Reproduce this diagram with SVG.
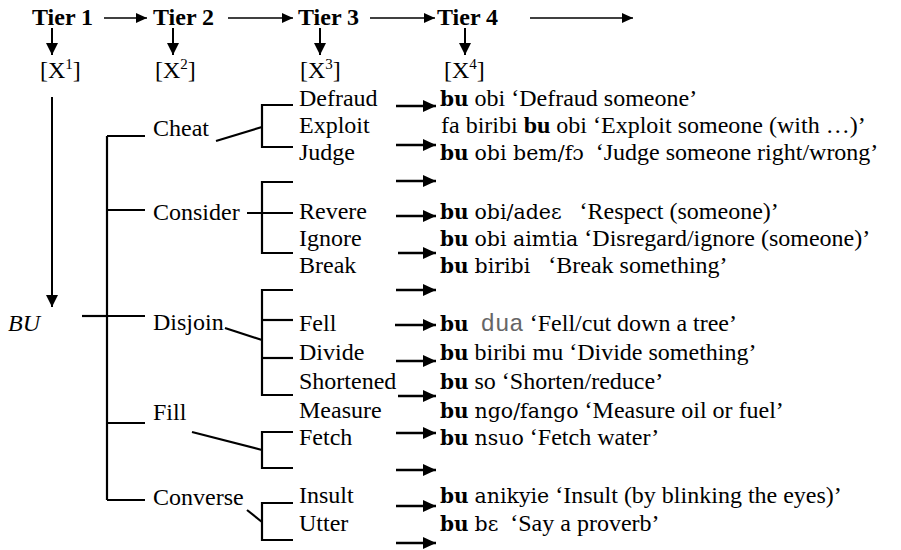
<svg xmlns="http://www.w3.org/2000/svg" width="901" height="550" viewBox="0 0 901 550">
<style>
text{font-family:"Liberation Serif","Times New Roman",serif;font-size:24px;fill:#000;white-space:pre}
.h{font-weight:bold}
.it{font-style:italic}
.sup{font-size:15px}
.b{font-weight:bold;font-family:"DejaVu Serif",serif;font-size:20px}
.bt{font-weight:bold}
.ak{font-family:"DejaVu Serif",serif;font-size:20.5px}
.mono{font-family:"Liberation Mono",monospace;font-size:24px;fill:#666}
.ln{stroke:#000;stroke-width:2.2;fill:none}
.ar{stroke:#000;stroke-width:2.6;fill:none;marker-end:url(#ah)}
.ha{stroke:#000;stroke-width:1.7;fill:none;marker-end:url(#hh)}
.da{stroke:#000;stroke-width:2;fill:none;marker-end:url(#dh)}
</style>
<defs>
<marker id="ah" markerUnits="userSpaceOnUse" markerWidth="14" markerHeight="12" refX="13" refY="6" orient="auto"><path d="M0,0 L13,6 L0,12 Z" fill="#000"/></marker>
<marker id="hh" markerUnits="userSpaceOnUse" markerWidth="12" markerHeight="10" refX="11" refY="5" orient="auto"><path d="M0,0 L11,5 L0,10 Z" fill="#000"/></marker>
<marker id="dh" markerUnits="userSpaceOnUse" markerWidth="13" markerHeight="12" refX="12" refY="6" orient="auto"><path d="M0,0 L12,6 L0,12 Z" fill="#000"/></marker>
</defs>
<rect width="901" height="550" fill="#fff"/>

<g id="header">
<text class="h" x="32" y="25">Tier 1</text>
<text class="h" x="153" y="25">Tier 2</text>
<text class="h" x="298" y="25">Tier 3</text>
<text class="h" x="437" y="25">Tier 4</text>
<text x="40" y="78">[X<tspan class="sup" dy="-9">1</tspan><tspan dy="9">]</tspan></text>
<text x="155" y="78">[X<tspan class="sup" dy="-9">2</tspan><tspan dy="9">]</tspan></text>
<text x="300" y="78">[X<tspan class="sup" dy="-9">3</tspan><tspan dy="9">]</tspan></text>
<text x="444" y="78">[X<tspan class="sup" dy="-9">4</tspan><tspan dy="9">]</tspan></text>
</g>

<g id="connectors">
<line class="ha" x1="104" y1="18" x2="147" y2="18"/>
<line class="ha" x1="228" y1="18" x2="293" y2="18"/>
<line class="ha" x1="370" y1="18" x2="435" y2="18"/>
<line class="ha" x1="530" y1="18" x2="633" y2="18"/>
<line class="da" x1="52" y1="28" x2="52" y2="55"/>
<line class="da" x1="173" y1="28" x2="173" y2="55"/>
<line class="da" x1="320" y1="28" x2="320" y2="55"/>
<line class="da" x1="465" y1="28" x2="465" y2="55"/>
<line class="da" x1="52" y1="97" x2="52" y2="307"/>
<line class="ln" x1="82" y1="316" x2="107" y2="316"/>
<line class="ln" x1="107" y1="136" x2="107" y2="500"/>
<line class="ln" x1="107" y1="136" x2="145" y2="136"/>
<line class="ln" x1="107" y1="210" x2="145" y2="210"/>
<line class="ln" x1="107" y1="316" x2="145" y2="316"/>
<line class="ln" x1="107" y1="423" x2="145" y2="423"/>
<line class="ln" x1="107" y1="500" x2="145" y2="500"/>
<line class="ln" x1="216" y1="141" x2="262" y2="127"/>
<path class="ln" d="M293,105 H262 V147 H293"/>
<path class="ln" d="M293,182 H262 V253 H293"/>
<line class="ln" x1="247" y1="213" x2="293" y2="213"/>
<line class="ln" x1="225" y1="328" x2="262" y2="340"/>
<path class="ln" d="M293,290 H262 V395 H293"/>
<line class="ln" x1="262" y1="320" x2="293" y2="320"/>
<line class="ln" x1="262" y1="358" x2="293" y2="358"/>
<line class="ln" x1="192" y1="432" x2="262" y2="450"/>
<path class="ln" d="M293,432 H262 V468 H293"/>
<line class="ln" x1="247" y1="510" x2="262" y2="522"/>
<path class="ln" d="M293,503 H262 V540 H293"/>
<line class="ar" x1="396" y1="106" x2="436" y2="106"/>
<line class="ar" x1="396" y1="145" x2="436" y2="145"/>
<line class="ar" x1="396" y1="181" x2="436" y2="181"/>
<line class="ar" x1="396" y1="216" x2="436" y2="216"/>
<line class="ar" x1="398" y1="253" x2="436" y2="253"/>
<line class="ar" x1="396" y1="290" x2="436" y2="290"/>
<line class="ar" x1="395" y1="325" x2="436" y2="325"/>
<line class="ar" x1="396" y1="361" x2="436" y2="361"/>
<line class="ar" x1="398" y1="396" x2="436" y2="396"/>
<line class="ar" x1="396" y1="433" x2="436" y2="433"/>
<line class="ar" x1="396" y1="470" x2="436" y2="470"/>
<line class="ar" x1="396" y1="506" x2="436" y2="506"/>
<line class="ar" x1="396" y1="543" x2="436" y2="543"/>
</g>

<g id="n-bu"><text class="it" x="8" y="331">BU</text></g>
<g id="n-cheat"><text x="153" y="136">Cheat</text></g>
<g id="n-consider"><text x="153" y="220">Consider</text></g>
<g id="n-disjoin"><text x="153" y="330">Disjoin</text></g>
<g id="n-fill"><text x="153" y="420">Fill</text></g>
<g id="n-converse"><text x="153" y="505">Converse</text></g>

<g id="n-defraud"><text x="299" y="106">Defraud</text><text x="440" y="106"><tspan class="b">bu</tspan> obi ‘Defraud someone’</text></g>
<g id="n-exploit"><text x="299" y="133">Exploit</text><text x="441" y="133">fa biribi <tspan class="bt">bu</tspan> obi ‘Exploit someone (with …)’</text></g>
<g id="n-judge"><text x="299" y="160">Judge</text><text x="440" y="160"><tspan class="b">bu</tspan> <tspan class="ak">obi bem/fɔ</tspan>  ‘Judge someone right/wrong’</text></g>
<g id="n-revere"><text x="299" y="219">Revere</text><text x="440" y="219"><tspan class="b">bu</tspan> <tspan class="ak">obi/adeɛ</tspan>   ‘Respect (someone)’</text></g>
<g id="n-ignore"><text x="299" y="246">Ignore</text><text x="440" y="246"><tspan class="b">bu</tspan> <tspan class="ak">obi aimtia</tspan> ‘Disregard/ignore (someone)’</text></g>
<g id="n-break"><text x="299" y="273">Break</text><text x="440" y="273"><tspan class="b">bu</tspan> <tspan class="ak">biribi</tspan>   ‘Break something’</text></g>
<g id="n-fell"><text x="299" y="331">Fell</text><text x="440" y="331"><tspan class="b">bu</tspan>  <tspan class="mono">dua</tspan> ‘Fell/cut down a tree’</text></g>
<g id="n-divide"><text x="299" y="360">Divide</text><text x="440" y="360"><tspan class="b">bu</tspan> biribi mu ‘Divide something’</text></g>
<g id="n-shortened"><text x="299" y="389">Shortened</text><text x="440" y="389"><tspan class="b">bu</tspan> so ‘Shorten/reduce’</text></g>
<g id="n-measure"><text x="299" y="418">Measure</text><text x="440" y="418"><tspan class="b">bu</tspan> <tspan class="ak">ngo/fango</tspan> ‘Measure oil or fuel’</text></g>
<g id="n-fetch"><text x="299" y="445">Fetch</text><text x="440" y="445"><tspan class="b">bu</tspan> <tspan class="ak">nsuo</tspan> ‘Fetch water’</text></g>
<g id="n-insult"><text x="299" y="503">Insult</text><text x="440" y="503"><tspan class="b">bu</tspan> <tspan class="ak">anikyie</tspan> ‘Insult (by blinking the eyes)’</text></g>
<g id="n-utter"><text x="299" y="531">Utter</text><text x="440" y="531"><tspan class="b">bu</tspan> <tspan class="ak">bɛ</tspan>  ‘Say a proverb’</text></g>
</svg>
